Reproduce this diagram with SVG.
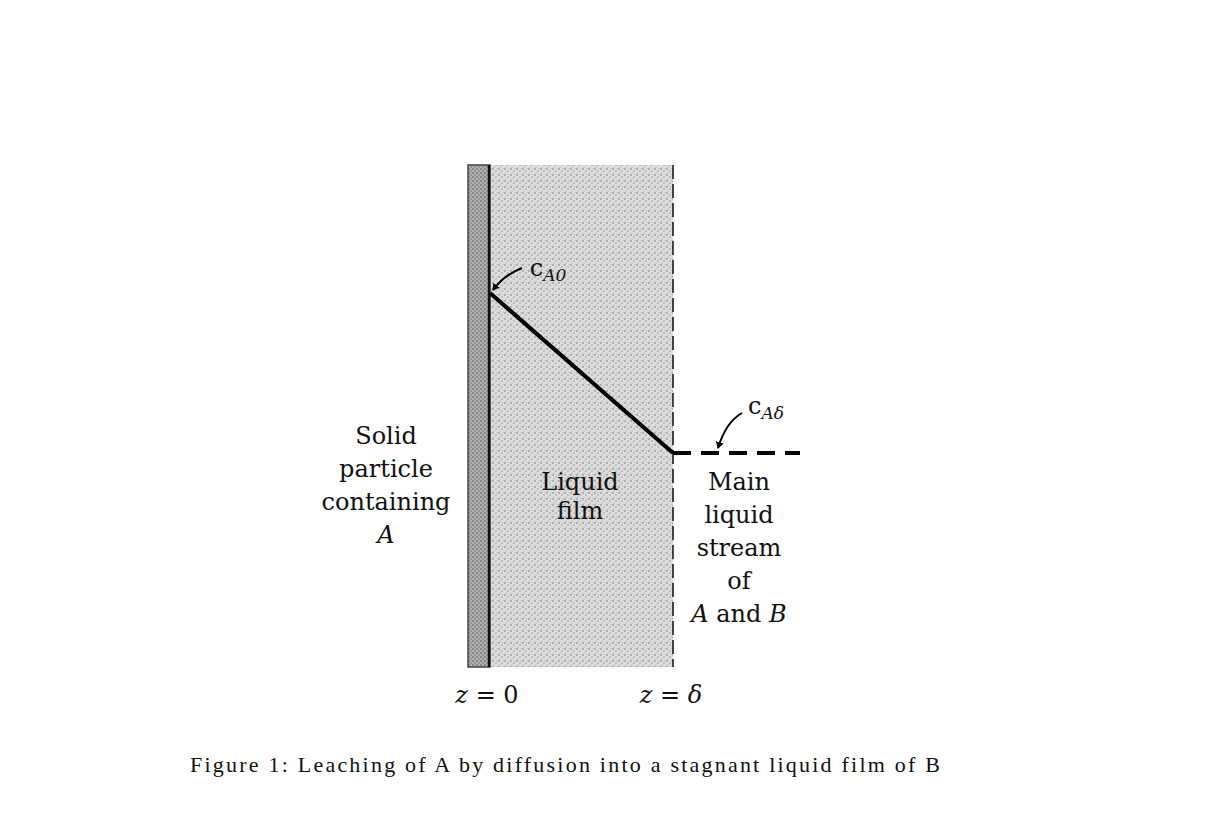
<svg xmlns="http://www.w3.org/2000/svg" width="1216" height="824" viewBox="0 0 1216 824">
<defs>
<pattern id="dots" width="6" height="6" patternUnits="userSpaceOnUse">
<rect width="6" height="6" fill="#dedede"/>
<circle cx="1" cy="1" r="0.8" fill="#777"/>
<circle cx="4" cy="3" r="0.7" fill="#888"/>
<circle cx="2" cy="5" r="0.6" fill="#999"/>
<circle cx="5" cy="0.5" r="0.5" fill="#aaa"/>
</pattern>
<pattern id="dark" width="4" height="4" patternUnits="userSpaceOnUse">
<rect width="4" height="4" fill="#b0b0b0"/>
<circle cx="1" cy="1" r="0.8" fill="#555"/>
<circle cx="3" cy="3" r="0.7" fill="#666"/>
</pattern>
<marker id="arr" markerWidth="8" markerHeight="8" refX="6" refY="4" orient="auto" markerUnits="userSpaceOnUse">
<path d="M0,0 L7,4 L0,8 Z" fill="#000"/>
</marker>
<style>
.t{font-family:"DejaVu Serif","Liberation Serif",serif;font-size:24px;fill:#111;text-anchor:middle}
.i{font-style:italic}
.cap{font-family:"Liberation Serif",serif;font-size:22px;fill:#111}
</style>
</defs>
<g id="film"><rect x="490" y="165" width="183" height="502" fill="url(#dots)"/></g>
<g id="solid"><rect x="468" y="165" width="22" height="502" fill="url(#dark)" stroke="#444" stroke-width="1.5"/>
<line x1="489" y1="165" x2="489" y2="667" stroke="#111" stroke-width="2.5"/></g>
<g id="connectors">
<line x1="673" y1="165" x2="673" y2="667" stroke="#111" stroke-width="1.5" stroke-dasharray="14,5"/>
<line x1="490" y1="293" x2="673" y2="453" stroke="#000" stroke-width="4"/>
<line x1="673" y1="453" x2="800" y2="453" stroke="#000" stroke-width="4" stroke-dasharray="18,10"/>
<path d="M522,268 Q504,275 493,290" fill="none" stroke="#000" stroke-width="2" marker-end="url(#arr)"/>
<path d="M742,413 Q726,422 718,448" fill="none" stroke="#000" stroke-width="2" marker-end="url(#arr)"/>
</g>
<g id="labels">
<text class="t" x="548" y="276" font-size="22">c<tspan class="i" font-size="17" dy="5">A0</tspan></text>
<text class="t" x="766" y="414" font-size="22">c<tspan class="i" font-size="17" dy="5">Aδ</tspan></text>
<text class="t" x="386" y="444">Solid</text>
<text class="t" x="386" y="477">particle</text>
<text class="t" x="386" y="510">containing</text>
<text class="t i" x="386" y="543">A</text>
<text class="t" x="580" y="490">Liquid</text>
<text class="t" x="580" y="519">film</text>
<text class="t" x="739" y="490">Main</text>
<text class="t" x="739" y="523">liquid</text>
<text class="t" x="739" y="556">stream</text>
<text class="t" x="739" y="589">of</text>
<text class="t" x="739" y="622"><tspan class="i">A</tspan> and <tspan class="i">B</tspan></text>
<text class="t" x="487" y="703"><tspan class="i">z</tspan> = 0</text>
<text class="t" x="671" y="703"><tspan class="i">z</tspan> = <tspan class="i">δ</tspan></text>
<text class="cap" x="190" y="772" textLength="750" lengthAdjust="spacing">Figure 1: Leaching of A by diffusion into a stagnant liquid film of B</text>
</g>
</svg>
